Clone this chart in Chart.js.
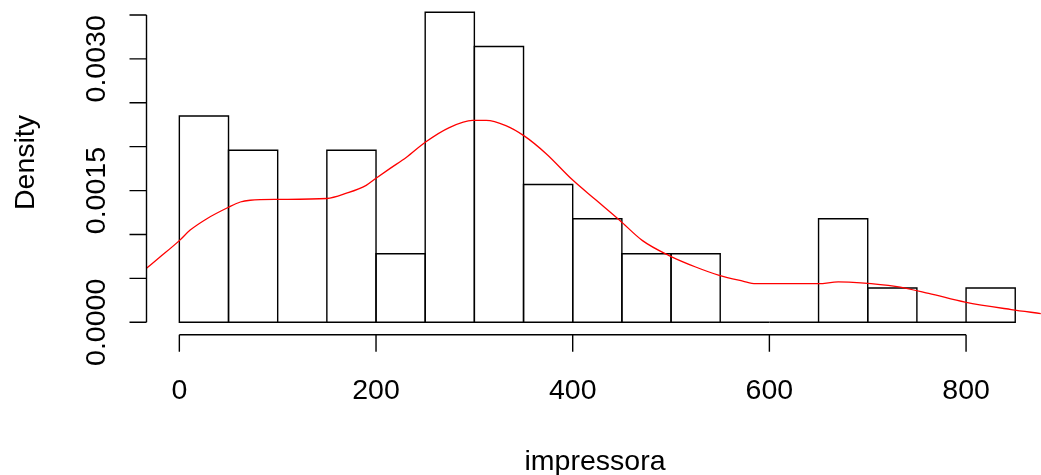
<!DOCTYPE html>
<html>
<head>
<meta charset="utf-8">
<script src="https://cdn.jsdelivr.net/npm/chart.js@4.4.0/dist/chart.umd.min.js"></script>
<style>
  body { margin: 0; background: #fff; }
  #wrap { width: 1041px; height: 475px; position: relative; }
</style>
</head>
<body>
<div id="wrap"><canvas id="myChart"></canvas></div>
<script>
'use strict';
// histogram of impressora (density scale) + kernel density line
const breaks = [0, 50, 100, 150, 200, 250, 300, 350, 400, 450, 500, 550, 600, 650, 700, 750, 800, 850];
const density = [0.00235, 0.00196, 0, 0.00196, 0.00078, 0.00353, 0.00314, 0.00157, 0.00118,
                 0.00078, 0.00078, 0, 0, 0.00118, 0.00039, 0, 0.00039];

// red curve
const kdeX = [-34, -20, 0, 11, 28, 50, 62, 72, 100, 150, 170, 190, 200, 214, 231, 250, 275, 298, 312,
              332, 351, 373, 400, 424, 448, 471, 498, 525, 549, 573, 586, 620, 650, 670, 693, 728,
              762, 799, 846, 876];
const kdeY = [0.00061, 0.00074, 0.00093, 0.00105, 0.00118, 0.00131, 0.00137, 0.00139, 0.00140, 0.00141,
              0.00147, 0.00156, 0.00164, 0.00175, 0.00188, 0.00205, 0.00222, 0.00230, 0.00230,
              0.00224, 0.00212, 0.00192, 0.00162, 0.00139, 0.00116, 0.00093, 0.00076, 0.00063,
              0.000535, 0.00047, 0.00044, 0.00044, 0.00044, 0.00046, 0.00045, 0.00041,
              0.00033, 0.00023, 0.000145, 0.0001];

const xTicks = [0, 200, 400, 600, 800];
const yTicks = [0, 0.0005, 0.001, 0.0015, 0.002, 0.0025, 0.003, 0.0035];
const yLabels = ['0.0000', '', '', '0.0015', '', '', '0.0030', ''];
const xTitle = 'impressora';
const yTitle = 'Density';

const FONT = '28.5px "Liberation Sans", Arial, sans-serif';

const histData = density.map((d, i) => ({ x: (breaks[i] + breaks[i + 1]) / 2, y: d }));
const kdeData = kdeX.map((x, i) => ({ x: x, y: kdeY[i] }));

// R-style rectangles: one shared 1px edge between neighbours
const histOutline = {
    id: 'histOutline',
    afterDatasetDraw(chart, args) {
        if (args.index !== 0) return;
        const ctx = chart.ctx;
        ctx.save();
        ctx.strokeStyle = '#000';
        ctx.lineWidth = 1.4;
        args.meta.data.forEach(bar => {
            const p = bar.getProps(['x', 'y', 'base', 'width'], true);
            ctx.beginPath();
            ctx.rect(p.x - p.width / 2, p.y, p.width, p.base - p.y);
            ctx.stroke();
        });
        ctx.restore();
    }
};

const rAxes = {
    id: 'rAxes',
    afterDraw(chart) {
        const ctx = chart.ctx;
        const xs = chart.scales.x, ys = chart.scales.y;
        const area = chart.chartArea;
        ctx.save();
        ctx.strokeStyle = '#000';
        ctx.fillStyle = '#000';
        ctx.lineWidth = 1.4;
        ctx.font = FONT;

        // x axis
        const ay = area.bottom;
        ctx.beginPath();
        ctx.moveTo(xs.getPixelForValue(xTicks[0]), ay);
        ctx.lineTo(xs.getPixelForValue(xTicks[xTicks.length - 1]), ay);
        xTicks.forEach(t => {
            const px = xs.getPixelForValue(t);
            ctx.moveTo(px, ay);
            ctx.lineTo(px, ay + 17);
        });
        ctx.stroke();
        ctx.textAlign = 'center';
        ctx.textBaseline = 'alphabetic';
        xTicks.forEach(t => ctx.fillText(String(t), xs.getPixelForValue(t), 398.5));

        // y axis
        const ax = area.left;
        ctx.beginPath();
        ctx.moveTo(ax, ys.getPixelForValue(yTicks[0]));
        ctx.lineTo(ax, ys.getPixelForValue(yTicks[yTicks.length - 1]));
        yTicks.forEach(t => {
            const py = ys.getPixelForValue(t);
            ctx.moveTo(ax, py);
            ctx.lineTo(ax - 17, py);
        });
        ctx.stroke();
        yTicks.forEach((t, i) => {
            if (!yLabels[i]) return;
            ctx.save();
            ctx.translate(105, ys.getPixelForValue(t));
            ctx.rotate(-Math.PI / 2);
            ctx.fillText(yLabels[i], 0, 0);
            ctx.restore();
        });

        // titles
        ctx.fillText(xTitle, 595, 470);
        ctx.save();
        ctx.translate(33.5, 162.5);
        ctx.rotate(-Math.PI / 2);
        ctx.fillText(yTitle, 0, 0);
        ctx.restore();
        ctx.restore();
    }
};

const ctx = document.getElementById('myChart').getContext('2d');
const myChart = new Chart(ctx, {
    type: 'bar',
    data: {
        datasets: [
            {
                type: 'bar',
                label: 'hist',
                data: histData,
                backgroundColor: 'rgba(0,0,0,0)',
                borderWidth: 0,
                barPercentage: 1,
                categoryPercentage: 1,
                order: 2
            },
            {
                type: 'line',
                label: 'density',
                data: kdeData,
                borderColor: '#ff0000',
                borderWidth: 1.3,
                pointRadius: 0,
                fill: false,
                cubicInterpolationMode: 'monotone',
                order: 1
            }
        ]
    },
    options: {
        responsive: true,
        maintainAspectRatio: false,
        animation: false,
        devicePixelRatio: 1,
        layout: { padding: { left: 146.5, right: 0, top: 0, bottom: 140.3 } },
        plugins: {
            legend: { display: false },
            tooltip: { enabled: false },
            title: { display: false }
        },
        scales: {
            x: { type: 'linear', min: -33.4, max: 876.2, display: false, offset: false },
            y: { type: 'linear', min: -0.000141, max: 0.00367, display: false }
        }
    },
    plugins: [histOutline, rAxes]
});
</script>
</body>
</html>
